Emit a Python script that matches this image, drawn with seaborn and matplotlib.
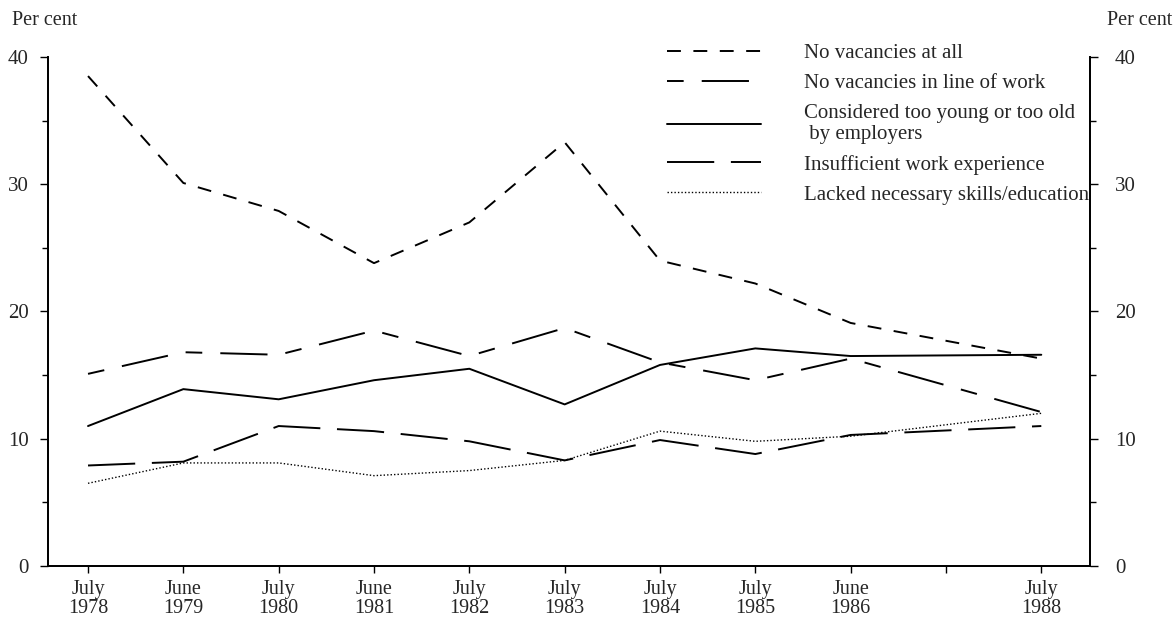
import numpy as np
import pandas as pd
import seaborn as sns
import matplotlib.pyplot as plt
from matplotlib.ticker import MultipleLocator

# survey dates (x positions are years, 1987 has a tick but no survey)
years = [1978, 1979, 1980, 1981, 1982, 1983, 1984, 1985, 1986, 1988]
tick_years = list(range(1978, 1989))
tick_labels = ["July\n1978", "June\n1979", "July\n1980", "June\n1981", "July\n1982",
               "July\n1983", "July\n1984", "July\n1985", "June\n1986", "", "July\n1988"]

no_vacancies = [38.5, 30.1, 27.9, 23.8, 27.0, 33.3, 24.0, 22.2, 19.1, 16.3]
line_of_work = [15.1, 16.8, 16.6, 18.5, 16.5, 18.7, 16.0, 14.6, 16.3, 12.1]
too_young_old = [11.0, 13.9, 13.1, 14.6, 15.5, 12.7, 15.8, 17.1, 16.5, 16.6]
experience = [7.9, 8.2, 11.0, 10.6, 9.8, 8.3, 9.9, 8.8, 10.3, 11.0]
skills = [6.5, 8.1, 8.1, 7.1, 7.5, 8.3, 10.6, 9.8, 10.2, 12.0]

labels = ["No vacancies at all",
          "No vacancies in line of work",
          "Considered too young or too old\n by employers",
          "Insufficient work experience",
          "Lacked necessary skills/education"]
series = [no_vacancies, line_of_work, too_young_old, experience, skills]
styles = [(0, (10, 9)),
          (0, (12, 13, 34, 13)),
          "-",
          (0, (34, 12)),
          (0, (1, 1.5))]
widths = [1.4, 1.4, 1.4, 1.4, 1.0]

sns.set_style("ticks")
plt.rcParams['font.family'] = ['Liberation Serif', 'DejaVu Serif']
plt.rcParams['lines.scale_dashes'] = False

fig = plt.figure(figsize=(11.76, 6.22), dpi=100)
ax = fig.add_axes([0.0408, 0.0900, 0.886, 0.8184])

for lab, vals, ls, lw in zip(labels, series, styles, widths):
    df = pd.DataFrame({"year": years, "pct": vals})
    sns.lineplot(data=df, x="year", y="pct", ax=ax, color="black",
                 linestyle=ls, linewidth=lw, label=lab)

ax.set_xlim(1977.58, 1988.51)
ax.set_ylim(0, 40)
ax.set_xticks(tick_years)
ax.set_xticklabels(tick_labels, fontsize=14.5, linespacing=1.02)
ax.set_yticks([0, 10, 20, 30, 40])
ax.yaxis.set_minor_locator(MultipleLocator(5))
ax.tick_params(axis='y', labelsize=15, length=6, width=1, color='black', pad=8)
ax.tick_params(axis='y', which='minor', length=4, width=1, color='black')
ax.tick_params(axis='x', length=5, width=1, color='black', pad=5)
ax.set_xlabel("")
ax.set_ylabel("")

ax2 = ax.twinx()
ax2.set_ylim(0, 40)
ax2.set_yticks([0, 10, 20, 30, 40])
ax2.yaxis.set_minor_locator(MultipleLocator(5))
ax2.tick_params(axis='y', labelsize=15, length=6, width=1, color='black', pad=12)
ax2.tick_params(axis='y', which='minor', length=4, width=1, color='black')

for a in (ax, ax2):
    a.spines['top'].set_visible(False)
    for s in ('left', 'right', 'bottom'):
        a.spines[s].set_color('black')
        a.spines[s].set_linewidth(1.3)

fig.text(0.010, 0.967, "Per cent", fontsize=14.5, va="center")
fig.text(0.997, 0.967, "Per cent", fontsize=14.5, va="center", ha="right")

ax.legend(loc="upper left", bbox_to_anchor=(0.567, 0.930),
          bbox_transform=fig.transFigure, frameon=False, fontsize=15,
          handlelength=4.5, handletextpad=2.1, labelspacing=0.5,
          borderpad=0, borderaxespad=0)

fig.savefig("out.png", dpi=100)
